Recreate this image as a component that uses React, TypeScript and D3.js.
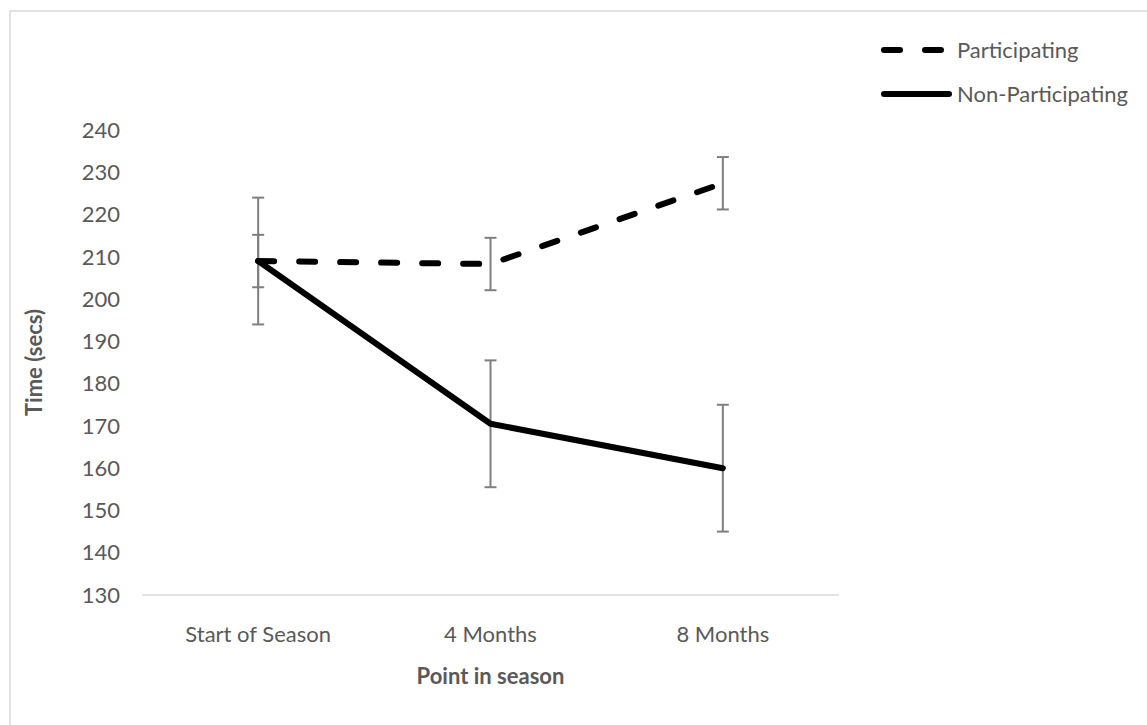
import * as d3 from "d3";

const categories = ["Start of Season", "4 Months", "8 Months"];
const participating = [209, 208.3, 227.4];
const participatingErr = [6.2, 6.2, 6.2];
const nonParticipating = [209, 170.5, 160];
const nonParticipatingErr = [15, 15, 15];
const yTicks = [130, 140, 150, 160, 170, 180, 190, 200, 210, 220, 230, 240];

const width = 1147;
const height = 725;
const plot = { left: 142, right: 839, top: 130, bottom: 595 };
const font = "Lato, 'Open Sans', sans-serif";
const textColor = "#595959";

const series = [
  { name: "Participating", values: participating, errors: participatingErr, dash: "16 25" },
  { name: "Non-Participating", values: nonParticipating, errors: nonParticipatingErr, dash: undefined },
];

export default function App() {
  const x = d3.scaleBand<string>().domain(categories).range([plot.left, plot.right]);
  const cx = (c: string) => (x(c) ?? 0) + x.bandwidth() / 2;
  const y = d3.scaleLinear().domain([130, 240]).range([plot.bottom, plot.top]);
  const line = d3
    .line<number>()
    .x((_, i) => cx(categories[i]))
    .y((v) => y(v));

  return (
    <svg
      width={width}
      height={height}
      style={{ position: "absolute", left: 0, top: 0, background: "#fff" }}
      fontFamily={font}
    >
      <rect x={10} y={11} width={width + 20} height={height + 20} fill="#fff" stroke="#d9d9d9" strokeWidth={1.5} />

      {yTicks.map((t) => (
        <text key={t} x={120} y={y(t)} dy="0.35em" textAnchor="end" fontSize={22} fill={textColor}>
          {t}
        </text>
      ))}

      <line x1={plot.left} x2={plot.right} y1={plot.bottom} y2={plot.bottom} stroke="#d9d9d9" strokeWidth={1.5} />

      {categories.map((c) => (
        <text key={c} x={cx(c)} y={634} dy="0.35em" textAnchor="middle" fontSize={22} fill={textColor}>
          {c}
        </text>
      ))}

      <text x={(plot.left + plot.right) / 2} y={676} dy="0.35em" textAnchor="middle" fontSize={22} fontWeight="bold" fill={textColor}>
        Point in season
      </text>
      <text
        transform={`translate(34, ${(plot.top + plot.bottom) / 2}) rotate(-90)`}
        dy="0.35em"
        textAnchor="middle"
        fontSize={22}
        fontWeight="bold"
        fill={textColor}
      >
        Time (secs)
      </text>

      {series.map((s) => (
        <g key={s.name}>
          {s.values.map((v, i) => {
            const px = cx(categories[i]);
            const hi = y(v + s.errors[i]);
            const lo = y(v - s.errors[i]);
            return (
              <g key={i} stroke="#7f7f7f" strokeWidth={2}>
                <line x1={px} x2={px} y1={hi} y2={lo} />
                <line x1={px - 6} x2={px + 6} y1={hi} y2={hi} />
                <line x1={px - 6} x2={px + 6} y1={lo} y2={lo} />
              </g>
            );
          })}
        </g>
      ))}

      {series.map((s) => (
        <path
          key={s.name}
          d={line(s.values) ?? undefined}
          fill="none"
          stroke="#000"
          strokeWidth={6}
          strokeLinecap="round"
          strokeLinejoin="round"
          strokeDasharray={s.dash}
        />
      ))}

      {series.map((s, i) => {
        const ly = 50 + i * 44;
        return (
          <g key={s.name}>
            <line
              x1={884}
              x2={949}
              y1={ly}
              y2={ly}
              stroke="#000"
              strokeWidth={6}
              strokeLinecap="round"
              strokeDasharray={s.dash}
            />
            <text x={957} y={ly} dy="0.35em" fontSize={22} fill={textColor}>
              {s.name}
            </text>
          </g>
        );
      })}
    </svg>
  );
}
